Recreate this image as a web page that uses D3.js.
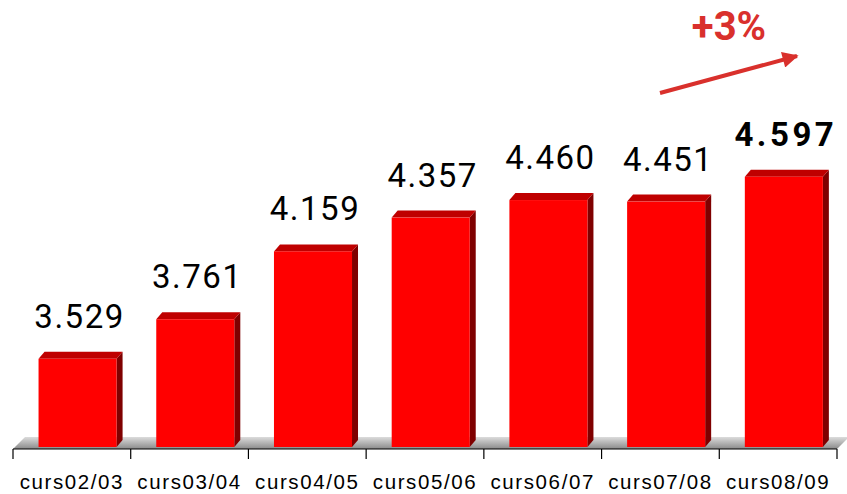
<!DOCTYPE html>
<html><head><meta charset="utf-8">
<script src="https://cdn.jsdelivr.net/npm/d3@7"></script>
<style>body{margin:0;background:#fff}svg{display:block}</style>
</head><body>
<svg id="c" width="847" height="494"></svg>
<script>
const categories = ["curs02/03","curs03/04","curs04/05","curs05/06","curs06/07","curs07/08","curs08/09"];
const values = [3.529, 3.761, 4.159, 4.357, 4.460, 4.451, 4.597];
const valueLabels = ["3.529","3.761","4.159","4.357","4.460","4.451","4.597"];
const growthLabel = "+3%";

const svg = d3.select("#c");
const x = d3.scaleBand().domain(categories).range([13, 837]).paddingInner(0).paddingOuter(0);
const y = d3.scaleLinear().domain([3.0, 4.597]).range([449, 176.7]);
const bw = x.bandwidth();
const dx = 6, dy = 7;
const fdx = 12, fdy = 12;

const defs = svg.append("defs");
const g = defs.append("linearGradient").attr("id","floor").attr("x1",0).attr("y1",0).attr("x2",0).attr("y2",1);
g.append("stop").attr("offset","0%").attr("stop-color","#dcdcdc");
g.append("stop").attr("offset","100%").attr("stop-color","#8a8a8a");

// floor
const [r0, r1] = x.range();
svg.append("polygon")
  .attr("points", [[r0, 449],[r0+fdx, 449-fdy],[r1+fdx, 449-fdy],[r1, 449]].map(p=>p.join(",")).join(" "))
  .attr("fill","url(#floor)");

// bars
const bars = svg.append("g").selectAll("g").data(categories).join("g");
bars.each(function(c, i){
  const gg = d3.select(this);
  const x0 = x(c) + bw*0.217, x1 = x0 + bw*0.663;
  const yt = y(values[i]), yb = 447;
  const last = i === categories.length-1;
  gg.append("polygon").attr("points", [[x1,yb],[x1+dx,yb-dy],[x1+dx,yt-dy],[x1,yt]].map(p=>p.join(",")).join(" ")).attr("fill","#7f0000");
  gg.append("polygon").attr("points", [[x0,yt],[x0+dx,yt-dy],[x1+dx,yt-dy],[x1,yt]].map(p=>p.join(",")).join(" ")).attr("fill","#bf0000");
  gg.append("rect").attr("x",x0).attr("y",yt).attr("width",x1-x0).attr("height",yb-yt).attr("fill","#ff0000");
  gg.append("text").attr("x",(x0+x1)/2 + 2).attr("y",yt-31).attr("text-anchor","middle")
    .attr("font-family","Roboto, 'DejaVu Sans', sans-serif").attr("font-size",33)
    .attr("font-weight", last ? "bold" : "normal")
    .attr("letter-spacing", last ? 3.5 : 1.5)
    .attr("fill","#000").text(valueLabels[i]);
});

// axis
const axis = svg.append("g").attr("transform","translate(0,449)")
  .call(d3.axisBottom(x).tickSize(0).tickPadding(0));
axis.select(".domain").attr("stroke","#000").attr("stroke-width",1.2).attr("d",`M${r0},0H${r1}`);
axis.selectAll(".tick line").remove();
axis.selectAll(".tick text").attr("y",40).attr("dy",0)
  .attr("font-family","'Liberation Sans', Arial, sans-serif").attr("font-size",20.5).attr("letter-spacing",1.6).attr("fill","#000");
const bounds = categories.map(c=>x(c)).concat([r1]);
svg.append("g").selectAll("line").data(bounds).join("line")
  .attr("x1",d=>d).attr("x2",d=>d).attr("y1",449).attr("y2",459).attr("stroke","#000").attr("stroke-width",1.2);

// growth arrow
const red = "#d9302c";
defs.append("marker").attr("id","ah").attr("viewBox","0 0 10 10").attr("refX",9).attr("refY",5)
  .attr("markerWidth",5).attr("markerHeight",4).attr("markerUnits","strokeWidth").attr("orient","auto")
  .append("path").attr("d","M0,0L10,5L0,10z").attr("fill",red);
svg.append("line").attr("x1",660).attr("y1",93).attr("x2",797).attr("y2",56)
  .attr("stroke",red).attr("stroke-width",4).attr("marker-end","url(#ah)");
svg.append("text").attr("x",729).attr("y",40).attr("text-anchor","middle")
  .attr("font-family","Roboto, 'DejaVu Sans', sans-serif").attr("font-weight","bold").attr("font-size",40)
  .attr("fill",red).text(growthLabel);
</script>
</body></html>
